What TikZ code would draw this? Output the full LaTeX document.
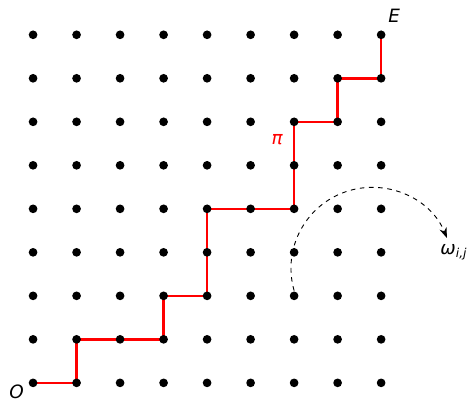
\documentclass[tikz,border=0pt]{standalone}
\usepackage{fontspec}
\setmainfont{DejaVu Sans}
\usetikzlibrary{arrows.meta,backgrounds}
\tikzset{
    dot/.style={circle, fill=black, inner sep=0pt, minimum size=0.2cm},
    lattpath/.style={red, line width=1.6pt},
    lbl/.style={font=\fontsize{12}{14}\selectfont\itshape, inner sep=1pt}
}
\begin{document}
\begin{tikzpicture}
        \useasboundingbox (-0.76,-0.414) rectangle (10.02,8.80);
        \foreach \i in {0,...,8} {
            \foreach \j in {0,...,8} {
                \node[dot] (p-\i-\j) at (\i,\j) {};
            }
        }
        \begin{scope}[on background layer]
            \draw[lattpath] (p-0-0.center) -- (p-1-0.center) -- (p-1-1.center) -- (p-3-1.center)
                -- (p-3-2.center) -- (p-4-2.center) -- (p-4-4.center) -- (p-6-4.center)
                -- (p-6-6.center) -- (p-7-6.center) -- (p-7-7.center) -- (p-8-7.center) -- (p-8-8.center);
        \end{scope}
        \node[lbl] (o) at (-0.38,-0.21) {O};
        \node[lbl] (e) at (8.3,8.43) {E};
        \node[lbl, red] (pi) at (5.61,5.6) {π};
        \draw[dashed, line width=0.6pt, -{Stealth[length=2.4mm, width=1.7mm]}] ([yshift=1.2mm]p-6-2.center)
            arc[start angle=196, end angle=22, radius=1.86] coordinate (w);
        \node[lbl, anchor=north] (omega) at ([xshift=0.16cm, yshift=-0.1cm]w) {ω\textsubscript{\itshape i,j}};
    \end{tikzpicture}
\end{document}
